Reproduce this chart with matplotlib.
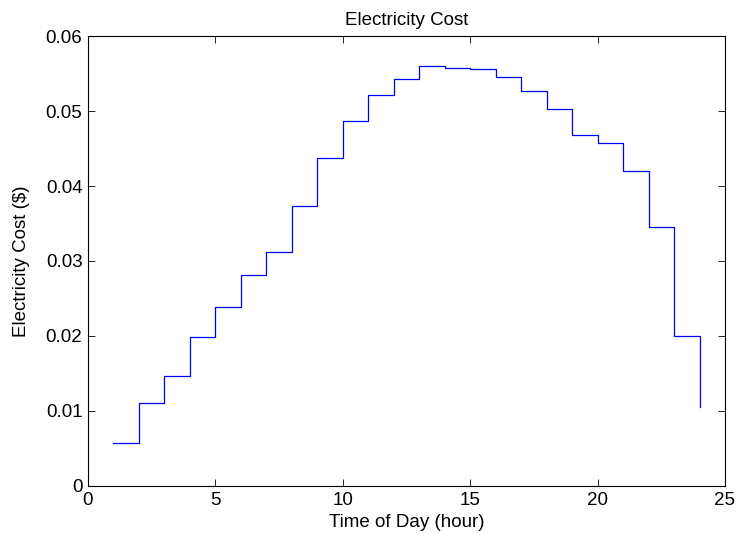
import matplotlib
matplotlib.use("Agg")
import matplotlib.pyplot as plt

# Hourly electricity cost over one day
hours = list(range(1, 25))
cost = [0.0057, 0.0110, 0.0147, 0.0198, 0.0238, 0.0281, 0.0312, 0.0374,
        0.0438, 0.0487, 0.0522, 0.0543, 0.0560, 0.0557, 0.0556, 0.0545,
        0.0527, 0.0503, 0.0468, 0.0457, 0.0420, 0.0345, 0.0200, 0.0105]

x_ticks = [0, 5, 10, 15, 20, 25]
y_ticks = [0, 0.01, 0.02, 0.03, 0.04, 0.05, 0.06]
y_tick_labels = ["0", "0.01", "0.02", "0.03", "0.04", "0.05", "0.06"]

plt.rcParams["font.family"] = ["Liberation Sans", "DejaVu Sans"]
plt.rcParams["font.size"] = 10

fig = plt.figure(figsize=(7.37, 5.35), dpi=100)
ax = fig.add_axes([0.1194, 0.0916, 0.8643, 0.8411])

ax.step(hours, cost, where="post", color="#0000ff", linewidth=0.9)

ax.set_xlim(0, 25)
ax.set_ylim(0, 0.06)
ax.set_xticks(x_ticks)
ax.set_xticklabels([str(t) for t in x_ticks])
ax.set_yticks(y_ticks)
ax.set_yticklabels(y_tick_labels)

ax.tick_params(direction="in", top=True, right=True, length=5, width=0.6,
               labelsize=13.5, pad=4)
for s in ax.spines.values():
    s.set_linewidth(0.8)

ax.set_title("Electricity Cost", fontsize=13.5, pad=8)
ax.set_xlabel("Time of Day (hour)", fontsize=13.5, labelpad=4)
ax.set_ylabel("Electricity Cost ($)", fontsize=13.5, labelpad=11)

fig.savefig("out.png", dpi=100)
